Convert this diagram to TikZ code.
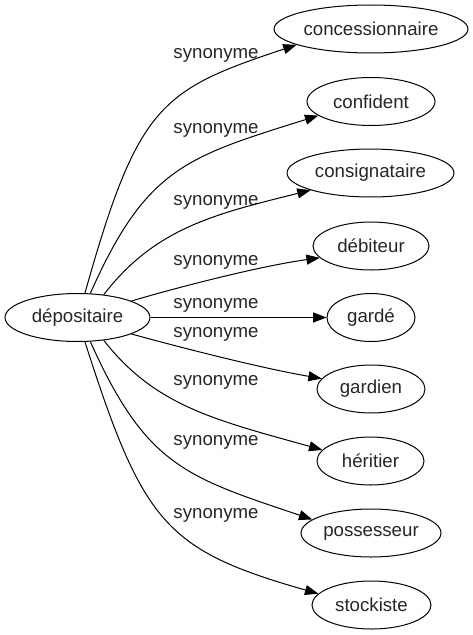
\documentclass[tikz,border=0pt]{standalone}
\usepackage{fontspec}
\setmainfont{Liberation Sans}
\usetikzlibrary{shapes.geometric,arrows.meta}
\begin{document}
\begin{tikzpicture}[x=0.75pt,y=-0.75pt,
  every node/.style={font=\fontsize{14pt}{16pt}\selectfont, text=black!85},
  nd/.style={draw=black, ellipse, line width=0.75pt, inner sep=0pt, minimum height=36pt},
  lbl/.style={inner sep=0pt},
  edge/.style={draw=black, line width=0.75pt, -{Triangle[length=10pt,width=7.5pt]}}]
\useasboundingbox (0,0) rectangle (473,635);
\node[nd, minimum width=108.75pt] (s) at (77.5,317.5) {dépositaire};
\node[nd, minimum width=145.5pt] (t1) at (371,29) {concessionnaire};
\node[nd, minimum width=96pt] (t2) at (371,101.5) {confident};
\node[nd, minimum width=125.25pt] (t3) at (370.5,173) {consignataire};
\node[nd, minimum width=87pt] (t4) at (371,246) {débiteur};
\node[nd, minimum width=66pt] (t5) at (371,317.5) {gardé};
\node[nd, minimum width=81pt] (t6) at (371,389) {gardien};
\node[nd, minimum width=80.25pt] (t7) at (370.5,461) {héritier};
\node[nd, minimum width=105pt] (t8) at (371,533) {possesseur};
\node[nd, minimum width=89.25pt] (t9) at (371.5,605) {stockiste};
\node[lbl] (l1) at (216,55) {synonyme};
\node[lbl] (l2) at (216,130) {synonyme};
\node[lbl] (l3) at (216,202) {synonyme};
\node[lbl] (l4) at (216,262) {synonyme};
\node[lbl] (l5) at (216,305) {synonyme};
\node[lbl] (l6) at (216,334) {synonyme};
\node[lbl] (l7) at (216,382) {synonyme};
\node[lbl] (l8) at (216,442) {synonyme};
\node[lbl] (l9) at (216,515) {synonyme};
\draw[edge] (s.73) .. controls (138,104) and (161,90) .. (t1.192);
\draw[edge] (s.62) .. controls (146,168) and (186,157) .. (t2.195);
\draw[edge] (s.41) .. controls (155,228) and (215,214) .. (t3.196);
\draw[edge] (s.17) .. controls (175,288) and (260,266) .. (t4.193);
\draw[edge] (s.east) -- (t5.west);
\draw[edge] (s.343) .. controls (175,346) and (260,368) .. (t6.168);
\draw[edge] (s.319) .. controls (155,406) and (215,420) .. (t7.167);
\draw[edge] (s.298) .. controls (146,466) and (186,477) .. (t8.167);
\draw[edge] (s.287) .. controls (143,523) and (165,550) .. (t9.168);
\end{tikzpicture}
\end{document}
